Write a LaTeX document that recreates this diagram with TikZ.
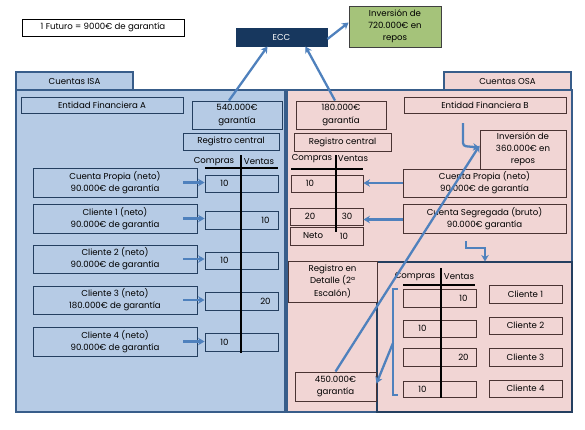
\documentclass[tikz,border=0pt]{standalone}
\usepackage{fontspec}
\setmainfont{Poppins}
\usetikzlibrary{arrows.meta}
\definecolor{isafill}{HTML}{B6CBE5}
\definecolor{osafill}{HTML}{F1D5D4}
\definecolor{panelline}{HTML}{385D8A}
\definecolor{bxA}{HTML}{243F60}
\definecolor{bxB}{HTML}{4A3333}
\definecolor{eccfill}{HTML}{17375E}
\definecolor{greenfill}{HTML}{A5C37A}
\definecolor{arrowblue}{HTML}{4F81BD}
\newcommand\mybox[7]{\node[#1, minimum width={#5-#3}, minimum height={#6-#4}] (#2) at ({(#3+#5)/2},{(#4+#6)/2}) {#7};}
\begin{document}
\begin{tikzpicture}[x=1pt,y=-1pt,
  font=\fontsize{8.6}{12.2}\selectfont,
  bx/.style={draw, line width=0.9pt, inner sep=0pt, align=center},
  boxA/.style={bx, draw=bxA, fill=isafill},
  boxB/.style={bx, draw=bxB, fill=osafill},
  panelA/.style={draw=panelline, line width=1.6pt, fill=isafill, inner sep=0pt},
  panelB/.style={draw=panelline, line width=1.6pt, fill=osafill, inner sep=0pt},
  arr/.style={draw=arrowblue, line width=2.3pt, -{Stealth[length=6.5pt,width=7.5pt]}},
  tline/.style={line width=2.4pt, black},
  uline/.style={line width=1.5pt, black},
  val/.style={inner sep=0pt},
  hdr/.style={inner sep=0pt}]
\fill[white] (0,0) rectangle (585,429);
\useasboundingbox (0,0) rectangle (585,429);

% top
\mybox{bx, draw=black, fill=white}{fut}{22}{19}{184}{36}{1 Futuro = 9000€ de garantía}
\mybox{bx, draw=eccfill, fill=eccfill, text=white}{ecc}{236}{28}{327}{46}{ECC}
\mybox{bx, draw=black!75, fill=greenfill}{inv720}{349}{6}{441}{47}{Inversión de\\720.000€ en\\repos}

% panels
\mybox{panelA}{isapanel}{16}{90}{285}{412}{}
\mybox{panelB}{osapanel}{287}{90}{572}{412}{}
\mybox{panelA}{isatab}{16}{72}{133}{90}{Cuentas ISA}
\mybox{panelB}{osatab}{444}{72}{571}{90}{Cuentas OSA}

% ISA side
\mybox{boxA}{entA}{21}{97}{183}{113}{Entidad Financiera A}
\mybox{boxA}{g540}{192}{101}{282}{129}{540.000€\\garantía}
\mybox{boxA}{regA}{183}{133}{279}{150}{Registro central}
\node[hdr] (compA) at (214,162) {Compras};
\node[hdr] (ventA) at (259,162) {Ventas};

\mybox{boxA}{cpA}{33}{168}{197}{197}{Cuenta Propia (neto)\\90.000€ de garantía}
\mybox{boxA}{c1A}{33}{204}{197}{233}{Cliente 1 (neto)\\90.000€ de garantía}
\mybox{boxA}{c2A}{33}{245}{197}{273}{Cliente 2 (neto)\\90.000€ de garantía}
\mybox{boxA}{c3A}{33}{286}{197}{314}{Cliente 3 (neto)\\180.000€ de garantía}
\mybox{boxA}{c4A}{33}{327}{197}{356}{Cliente 4 (neto)\\90.000€ de garantía}
\mybox{boxA}{sA1}{205}{175}{278}{192}{}
\mybox{boxA}{sA2}{205}{211}{278}{229}{}
\mybox{boxA}{sA3}{205}{252}{278}{269}{}
\mybox{boxA}{sA4}{205}{292}{278}{310}{}
\mybox{boxA}{sA5}{205}{333}{278}{351}{}
\node[val] (vA1) at ([xshift=20pt]sA1.west) {10};
\node[val] (vA2) at ([xshift=-13pt]sA2.east) {10};
\node[val] (vA3) at ([xshift=20pt]sA3.west) {10};
\node[val] (vA4) at ([xshift=-13pt]sA4.east) {20};
\node[val] (vA5) at ([xshift=20pt]sA5.west) {10};
\draw[uline] (205,168) -- (278,168);
\draw[tline] (241,155) -- (241,353);

% OSA side
\mybox{boxB}{g180}{296}{101}{386}{129}{180.000€\\garantía}
\mybox{boxB}{regB}{294}{133}{391}{151}{Registro central}
\mybox{boxB}{entB}{404}{97}{566}{113}{Entidad Financiera B}
\mybox{boxB}{inv360}{480}{130}{566}{169}{Inversión de\\360.000€ en\\repos}
\node[hdr] (compB) at (312,159) {Compras};
\node[hdr] (ventB) at (353,159) {Ventas};
\mybox{boxB}{sB1}{291}{175}{363}{192}{}
\mybox{boxB}{sB2}{290}{208}{363}{225}{}
\mybox{boxB}{netB}{290}{227}{363}{245}{}
\node[val] (vB1) at (310,183.5) {10};
\node[val] (vB2) at (310,216.5) {20};
\node[val] (vB3) at (347,216.5) {30};
\node[val] (vB4) at (313,236) {Neto};
\node[val] (vB5) at (344,236) {10};
\draw[uline] (291,169) -- (363,169);
\draw[tline] (336,155) -- (336,232);
\mybox{boxB}{cpB}{403}{169}{566}{197}{Cuenta Propia (neto)\\90.000€ de garantía}
\mybox{boxB}{csB}{403}{204}{566}{233}{Cuenta Segregada (bruto)\\90.000€ garantía}

% lower detail area
\mybox{bx, draw=bxA, line width=1.1pt}{lowR}{377}{262}{572}{412}{}
\mybox{boxB}{regDet}{288}{261}{377}{302}{Registro en\\Detalle (2ª\\Escalón)}
\mybox{boxB}{g450}{295}{372}{376}{401}{450.000€\\garantía}
\node[hdr] (compD) at (415,277) {Compras};
\node[hdr] (ventD) at (459,277) {Ventas};
\mybox{boxB}{sD1}{403}{289}{476}{307}{}
\mybox{boxB}{sD2}{403}{320}{476}{337}{}
\mybox{boxB}{sD3}{403}{348}{476}{366}{}
\mybox{boxB}{sD4}{403}{381}{476}{397}{}
\node[val] (vD1) at ([xshift=-13pt]sD1.east) {10};
\node[val] (vD2) at ([xshift=20pt]sD2.west) {10};
\node[val] (vD3) at ([xshift=-13pt]sD3.east) {20};
\node[val] (vD4) at ([xshift=20pt]sD4.west) {10};
\draw[uline] (403,285) -- (475,285);
\draw[tline] (441,268) -- (441,398);
\mybox{boxB}{cl1}{489}{285}{562}{303}{Cliente 1}
\mybox{boxB}{cl2}{489}{317}{562}{334}{Cliente 2}
\mybox{boxB}{cl3}{489}{348}{562}{366}{Cliente 3}
\mybox{boxB}{cl4}{489}{380}{562}{397}{Cliente 4}
% bracket
\draw[draw=arrowblue, line width=1.8pt] (398,289) -- (393,289) -- (393,395) -- (398,395);
\coordinate (brk) at (393,343);

% arrows
\draw[arr] ([xshift=-14pt]cpA.east) -- (cpA.east -| sA1.west);
\draw[arr] ([xshift=-14pt]c1A.east) -- (c1A.east -| sA2.west);
\draw[arr] ([xshift=-14pt]c2A.east) -- (c2A.east -| sA3.west);
\draw[arr] ([xshift=-14pt]c3A.east) -- (c3A.east -| sA4.west);
\draw[arr] ([xshift=-14pt]c4A.east) -- (c4A.east -| sA5.west);
\draw[arr] (cpB.west) -- (cpB.west -| sB1.east);
\draw[arr] ([yshift=-1pt]csB.west) -- ([yshift=-1pt]csB.west -| sB2.east);
\draw[arr] ([xshift=-8pt]g540.north) -- ([xshift=-14pt]ecc.south);
\draw[arr] ([xshift=-6pt]g180.north) -- ([xshift=24pt]ecc.south);
\draw[arr] ([yshift=-2pt]ecc.east) -- ([yshift=4pt]inv720.west);
\coordinate (bendA) at (463,123);
\draw[arr, rounded corners=3pt] (bendA) -- (463,146) -- ([yshift=2pt]inv360.west);
\draw[arr] (g450.north) -- ([yshift=4pt]inv360.west);
\coordinate (bendB) at (466,241);
\coordinate (bendC) at (485,248);
\draw[arr] (bendB) -- (466,248) -- (bendC) -- (bendC |- lowR.north);
\draw[arr] (brk) -- ([yshift=3pt]g450.east);
\end{tikzpicture}
\end{document}
